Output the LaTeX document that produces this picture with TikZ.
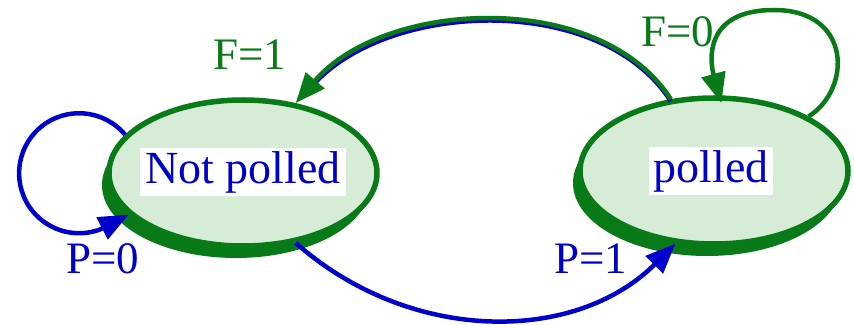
\documentclass[tikz,border=0pt]{standalone}
\usepackage{fontspec}
\setmainfont{Liberation Serif}
\usetikzlibrary{shapes.geometric,arrows.meta,shadows}
\definecolor{sgreen}{RGB}{8,122,24}
\definecolor{sblue}{RGB}{0,0,205}
\definecolor{sfill}{RGB}{214,236,214}
\begin{document}
\begin{tikzpicture}[x=1pt,y=1pt,
  state/.style={ellipse, draw=sgreen, line width=5.5pt, fill=sfill, minimum width=268pt, minimum height=146pt, inner sep=0pt,
    drop shadow={shadow xshift=-7pt,shadow yshift=-12pt,fill=sgreen,opacity=1}},
  stname/.style={fill=white, text=sblue, font=\fontsize{46}{50}\selectfont, inner xsep=5pt, inner ysep=3pt},
  lbl/.style={font=\fontsize{45}{50}\selectfont, inner sep=0pt},
  tip/.style={-{Triangle[length=30pt,width=24pt]}},
  bluearc/.style={draw=sblue, line width=4.5pt, tip},
  greenarc/.style={draw=sgreen, line width=4.5pt, tip}]
\useasboundingbox (0,0) rectangle (854,324);
% states
\node[state] (np) at (243,151) {};
\node[state] (pp) at (714,153) {};
\node[stname] (npt) at (243,152) {Not polled};
\node[stname] (ppt) at (711,153) {polled};
% self loop on Not polled
\draw[bluearc] (np.162) arc[start angle=40,end angle=290,radius=60] -- (np.200);
% polled -> Not polled (top)
\draw[draw=sblue, line width=4.5pt, transform canvas={yshift=-2pt}, shorten >=24pt] (pp.121) .. controls (600,335) and (385,325) .. (np.53);
\draw[greenarc] (pp.121) .. controls (600,335) and (385,325) .. (np.53);
\draw[sgreen, line width=3pt] (468,305) -- (500,305);
% self loop on polled
\draw[greenarc, shorten >=-8pt] (pp.30) .. controls (852,235) and (852,314) .. (774,314) .. controls (703,314) and (710,262) .. (pp.86);
% Not polled -> polled (bottom)
\draw[bluearc] (np.-53) .. controls (410,-20) and (575,-20) .. (pp.242);
% labels
\node[lbl, text=sgreen] (f1) at (250,269) {F=1};
\node[lbl, text=sgreen] (f0) at (678,292) {F=0};
\node[lbl, text=sblue] (p0) at (103,65) {P=0};
\node[lbl, text=sblue] (p1) at (591,65) {P=1};
\end{tikzpicture}
\end{document}
